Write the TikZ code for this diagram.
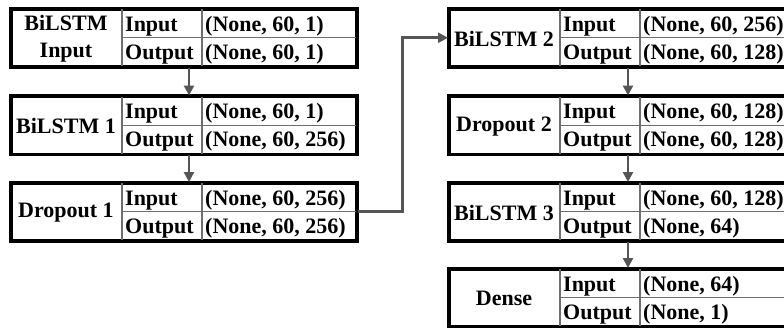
\documentclass[tikz,border=0pt]{standalone}
\usepackage{fontspec}
\setmainfont{Liberation Serif}
\usetikzlibrary{arrows.meta}
\definecolor{conncol}{HTML}{555555}
\definecolor{innercol}{HTML}{6E6E6E}
\tikzset{
  outerbox/.style={draw=black, line width=2.5pt, fill=white, inner sep=0pt},
  innerline/.style={draw=innercol, line width=1.2pt},
  nametext/.style={align=center, inner sep=0pt},
  celltext/.style={anchor=base west, inner sep=0pt},
  conn/.style={draw=conncol, line width=2.7pt, -{Triangle[length=10pt,width=10pt]}},
}
\newcommand\layerblock[6]{%
  \node[outerbox, anchor=north west, minimum width=345pt, minimum height=57pt] (#1) at (#2,#3) {};
  \draw[innerline] ([xshift=112pt]#1.north west) -- ([xshift=112pt]#1.south west);
  \draw[innerline] ([xshift=192pt]#1.north west) -- ([xshift=192pt]#1.south west);
  \draw[innerline] ([xshift=112pt]#1.west) -- (#1.east);
  \draw[line width=2.5pt] (#1.north west) rectangle (#1.south east);
  \node[nametext] (#1n) at ([xshift=56pt,yshift=-1pt]#1.west) {#4};
  \node[celltext] (#1i) at ([xshift=115pt,yshift=6.5pt]#1.west) {Input};
  \node[celltext] (#1o) at ([xshift=115pt,yshift=-21.5pt]#1.west) {Output};
  \node[celltext] (#1a) at ([xshift=195pt,yshift=6.5pt]#1.west) {#5};
  \node[celltext] (#1b) at ([xshift=195pt,yshift=-21.5pt]#1.west) {#6};
}
\begin{document}
\begin{tikzpicture}[x=1pt,y=-1pt,font=\fontsize{22}{27}\selectfont\bfseries]
\useasboundingbox (0,0) rectangle (784,327);
\clip (0,0) rectangle (784,327);
\layerblock{bA}{10}{8}{BiLSTM\\Input}{(None, 60, 1)}{(None, 60, 1)}
\layerblock{bB}{10}{95.5}{BiLSTM 1}{(None, 60, 1)}{(None, 60, 256)}
\layerblock{bC}{10}{182}{Dropout 1}{(None, 60, 256)}{(None, 60, 256)}
\layerblock{bD}{448}{8}{BiLSTM 2}{(None, 60, 256)}{(None, 60, 128)}
\layerblock{bE}{448}{95.5}{Dropout 2}{(None, 60, 128)}{(None, 60, 128)}
\layerblock{bF}{448}{182}{BiLSTM 3}{(None, 60, 128)}{(None, 64)}
\layerblock{bG}{448}{268}{Dense}{(None, 64)}{(None, 1)}
\draw[conn] ([xshift=179pt]bA.south west) -- ([xshift=179pt]bB.north west);
\draw[conn] ([xshift=179pt]bB.south west) -- ([xshift=179pt]bC.north west);
\draw[conn] (bC.east) -- ([xshift=45pt]bC.east) |- (bD.west);
\draw[conn] ([xshift=180pt]bD.south west) -- ([xshift=180pt]bE.north west);
\draw[conn] ([xshift=180pt]bE.south west) -- ([xshift=180pt]bF.north west);
\draw[conn] ([xshift=180pt]bF.south west) -- ([xshift=180pt]bG.north west);
\end{tikzpicture}
\end{document}
